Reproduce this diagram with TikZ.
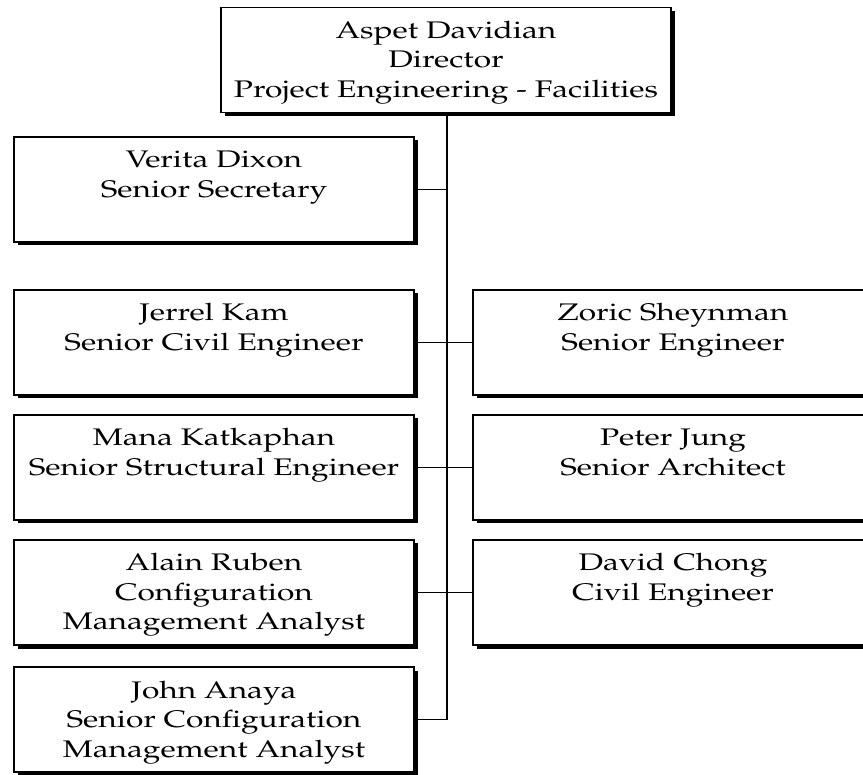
\documentclass[tikz,border=0pt]{standalone}
\usepackage[T1]{fontenc}
\usepackage{mathpazo}
\usepackage{graphicx}
\usetikzlibrary{shadows}

\newcommand{\boxtext}[1]{\scalebox{1.32}[1]{\begin{tabular}[t]{@{}c@{}}#1\end{tabular}}}

\begin{document}
\begin{tikzpicture}[x=1pt, y=1pt,
	box/.style={draw, line width=1.1pt, fill=white, minimum width=400pt, minimum height=105pt,
		inner sep=0pt, text height=21pt, text depth=64pt, font=\fontsize{24}{29.5}\selectfont,
		drop shadow={shadow xshift=3.5pt, shadow yshift=-3.5pt, fill=black, opacity=1}},
	link/.style={line width=1.6pt}]
	\useasboundingbox (0,0) rectangle (863,-775);
	\clip (0,0) rectangle (863,-775);
	% Nodes
	\node[box, minimum width=450pt] (dir) at (446,-60) {\boxtext{Aspet Davidian\\Director\\Project Engineering - Facilities}};
	\node[box] (sec) at (214,-189.5) {\boxtext{Verita Dixon\\Senior Secretary}};
	\node[box] (kam) at (214,-342.5) {\boxtext{Jerrel Kam\\Senior Civil Engineer}};
	\node[box] (katkaphan) at (214,-467.5) {\boxtext{Mana Katkaphan\\Senior Structural Engineer}};
	\node[box] (ruben) at (214,-592.5) {\boxtext{Alain Ruben\\Configuration\\Management Analyst}};
	\node[box] (anaya) at (214,-719.5) {\boxtext{John Anaya\\Senior Configuration\\Management Analyst}};
	\node[box] (sheynman) at (673,-342.5) {\boxtext{Zoric Sheynman\\Senior Engineer}};
	\node[box] (jung) at (673,-467.5) {\boxtext{Peter Jung\\Senior Architect}};
	\node[box] (chong) at (673,-592.5) {\boxtext{David Chong\\Civil Engineer}};
	\coordinate (bus) at (447,0);
	% Lines
	\draw[link] (dir.south -| bus) -- (anaya.east -| bus) -- (anaya.east);
	\draw[link] (sec.east) -- (sec.east -| bus);
	\draw[link] (kam.east) -- (sheynman.west);
	\draw[link] (katkaphan.east) -- (jung.west);
	\draw[link] (ruben.east) -- (chong.west);
\end{tikzpicture}
\end{document}
